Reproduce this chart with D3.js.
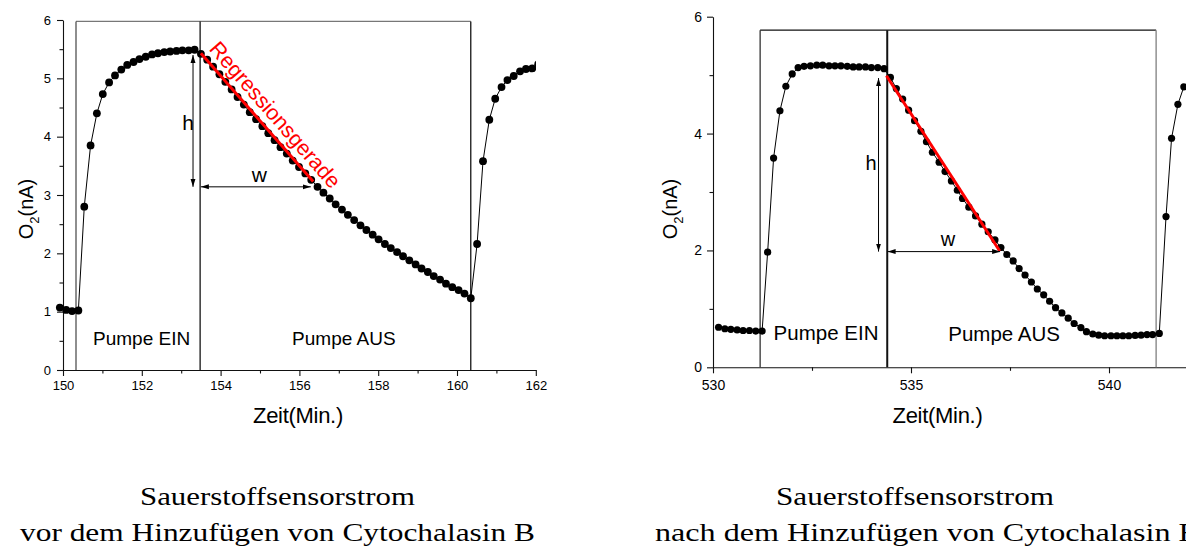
<!DOCTYPE html>
<html>
<head>
<meta charset="utf-8">
<script src="https://cdn.jsdelivr.net/npm/d3@7"></script>
<style>
    body { margin: 0; background: #fff; }
    svg { display: block; }
    text { font-family: "Liberation Sans", Arial, sans-serif; fill: #000; }
</style>
</head>
<body>
<div class="sensor_chart"></div>
<script>
// ---- data ----

// vor dem Hinzufügen von Cytochalasin B
var timeVor = [149.92, 150.08, 150.23, 150.39, 150.54, 150.70, 150.86, 151.01, 151.17, 151.32,
    151.48, 151.63, 151.79, 151.94, 152.10, 152.26, 152.41, 152.57, 152.72, 152.88,
    153.03, 153.19, 153.34,
    153.50, 153.66, 153.81, 153.97, 154.12, 154.28, 154.43, 154.59, 154.74, 154.90,
    155.06, 155.21, 155.37, 155.52, 155.68, 155.83, 155.99, 156.15, 156.30, 156.46,
    156.61, 156.77, 156.92, 157.08, 157.23, 157.39, 157.55, 157.70, 157.86, 158.01,
    158.17, 158.32, 158.48, 158.63, 158.79, 158.95, 159.10, 159.26, 159.41, 159.57,
    159.72, 159.88, 160.04, 160.19, 160.35,
    160.51, 160.66, 160.82, 160.97, 161.13, 161.28, 161.44, 161.60, 161.75, 161.91, 162.06];
var o2Vor = [1.07, 1.03, 1.01, 1.02, 2.80, 3.85, 4.40, 4.73, 4.93, 5.05,
    5.15, 5.23, 5.28, 5.33, 5.37, 5.41, 5.43, 5.45, 5.46, 5.47,
    5.48, 5.48, 5.49,
    5.42, 5.32, 5.20, 5.07, 4.94, 4.81, 4.68, 4.55, 4.42, 4.30,
    4.18, 4.06, 3.94, 3.82, 3.71, 3.59, 3.48, 3.37, 3.26, 3.14,
    3.04, 2.94, 2.84, 2.75, 2.66, 2.57, 2.48, 2.40, 2.32, 2.24,
    2.16, 2.09, 2.02, 1.95, 1.88, 1.81, 1.74, 1.68, 1.61, 1.55,
    1.48, 1.42, 1.37, 1.31, 1.23,
    2.16, 3.58, 4.29, 4.65, 4.85, 4.97, 5.04, 5.12, 5.16, 5.17, 5.24];

// nach dem Hinzufügen von Cytochalasin B
var timeNach = [530.14, 530.30, 530.45, 530.61, 530.76, 530.92, 531.08, 531.24,
    531.38, 531.53, 531.69, 531.84, 532.00,
    532.15, 532.30, 532.46, 532.62, 532.77, 532.93, 533.08, 533.23, 533.39, 533.54,
    533.69, 533.85, 534.00, 534.16, 534.32,
    534.48, 534.63, 534.79, 534.94, 535.09, 535.25, 535.39, 535.54, 535.71, 535.86,
    536.02, 536.17, 536.30, 536.46, 536.63, 536.79, 536.95, 537.12, 537.27, 537.42,
    537.58, 537.73, 537.88, 538.04, 538.19, 538.35, 538.50, 538.65, 538.81, 538.97,
    539.12, 539.29, 539.43, 539.59, 539.74, 539.89, 540.05, 540.20, 540.35, 540.50,
    540.66, 540.81, 540.96, 541.10, 541.27,
    541.44, 541.58, 541.74, 541.89];
var o2Nach = [0.685, 0.66, 0.65, 0.64, 0.63, 0.63, 0.62, 0.62,
    1.97, 3.58, 4.39, 4.81, 5.02,
    5.13, 5.15, 5.16, 5.17, 5.17, 5.16, 5.16, 5.16, 5.15, 5.14,
    5.14, 5.14, 5.13, 5.13, 5.11,
    4.96, 4.77, 4.59, 4.40, 4.22, 4.04, 3.86, 3.68, 3.51, 3.35,
    3.19, 3.03, 2.89, 2.74, 2.59, 2.45, 2.32, 2.18, 2.05, 1.93,
    1.82, 1.69, 1.58, 1.46, 1.34, 1.24, 1.13, 1.02, 0.93, 0.84,
    0.75, 0.68, 0.61, 0.57, 0.55, 0.54, 0.54, 0.54, 0.54, 0.54,
    0.545, 0.55, 0.56, 0.56, 0.58,
    2.58, 3.92, 4.50, 4.80];

// ticks
var xTicksVor = [150, 152, 154, 156, 158, 160, 162];
var xMinorVor = [151, 153, 155, 157, 159, 161];
var yTicksVor = [0, 1, 2, 3, 4, 5, 6];
var yMinorVor = [0.5, 1.5, 2.5, 3.5, 4.5, 5.5];
var xTicksNach = [530, 535, 540];
var xMinorNach = [532.5, 537.5];
var yTicksNach = [0, 2, 4, 6];
var yMinorNach = [1, 3, 5];

// pump phases: [Pumpe EIN, Pumpe AUS, Ende], top of the box
var pumpVor = [150.33, 153.48, 160.35];
var pumpNach = [531.19, 534.40, 541.19];
var boxTopVor = 5.975;
var boxTopNach = 5.77;

// Regressionsgerade [t, O2]
var regVor = [[153.50, 5.43], [156.35, 3.23]];
var regNach = [[534.38, 4.99], [537.24, 1.99]];

// h and w arrows
var hVor = [153.30, 5.40, 3.14];   // t, von, bis
var wVor = [153.50, 156.29, 3.14]; // von, bis, O2
var hNach = [534.18, 4.95, 1.98];
var wNach = [534.41, 537.25, 1.98];

var captionsVor = ["Sauerstoffsensorstrom", "vor dem Hinzufügen von Cytochalasin B"];
var captionsNach = ["Sauerstoffsensorstrom", "nach dem Hinzufügen von Cytochalasin B"];


var width = 1186, height = 551;

var svg = d3.select(".sensor_chart")
    .append("svg")
    .attr("width", width)
    .attr("height", height);

var defs = svg.append("defs");

defs.append("marker")
    .attr("id", "arrow")
    .attr("viewBox", "0 0 8 6")
    .attr("refX", 8)
    .attr("refY", 3)
    .attr("markerWidth", 8)
    .attr("markerHeight", 6)
    .attr("markerUnits", "userSpaceOnUse")
    .attr("orient", "auto-start-reverse")
    .append("path")
    .attr("d", "M0,0.5 L8,3 L0,5.5 z")
    .attr("fill", "#000");

defs.append("clipPath")
    .attr("id", "clipVor")
    .append("rect")
    .attr("x", 40).attr("y", 0)
    .attr("width", 496).attr("height", 400);


function drawPanel(p) {

    var x = d3.scaleLinear().domain(p.xDomain).range(p.xRange);
    var y = d3.scaleLinear().domain([0, 6]).range(p.yRange);

    var g = svg.append("g").attr("class", p.name);

    // axes
    var xAxis = d3.axisBottom(x).tickValues(p.xTicks).tickSize(6).tickSizeOuter(0)
        .tickPadding(p.xPad).tickFormat(d3.format("d"));
    var yAxis = d3.axisLeft(y).tickValues(p.yTicks).tickSize(6).tickSizeOuter(0)
        .tickPadding(p.yPad).tickFormat(d3.format("d"));

    g.append("g")
        .attr("transform", "translate(0," + p.yRange[0] + ")")
        .call(xAxis);
    g.append("g")
        .attr("transform", "translate(" + p.xRange[0] + ",0)")
        .call(yAxis);

    g.append("g")
        .attr("transform", "translate(0," + p.yRange[0] + ")")
        .call(d3.axisBottom(x).tickValues(p.xMinor).tickSize(3.5).tickFormat(""))
        .select(".domain").remove();
    g.append("g")
        .attr("transform", "translate(" + p.xRange[0] + ",0)")
        .call(d3.axisLeft(y).tickValues(p.yMinor).tickSize(3.5).tickFormat(""))
        .select(".domain").remove();

    g.selectAll(".tick text")
        .style("font-size", p.tickFont + "px")
        .style("font-family", "'Liberation Sans', Arial, sans-serif");
    g.selectAll(".domain, .tick line")
        .attr("stroke", "#111")
        .attr("stroke-width", 1.1);

    // pump box
    var box = g.append("g").attr("class", "pump_box");
    box.append("line")
        .attr("x1", x(p.pump[0])).attr("x2", x(p.pump[2]))
        .attr("y1", y(p.boxTop)).attr("y2", y(p.boxTop))
        .attr("stroke", p.boxColors[0]).attr("stroke-width", 1.2);
    p.pump.forEach(function(t, i) {
        box.append("line")
            .attr("x1", x(t)).attr("x2", x(t))
            .attr("y1", y(p.boxTop)).attr("y2", y(0))
            .attr("stroke", p.boxColors[i + 1])
            .attr("stroke-width", p.boxWidths[i]);
    });

    box.append("text")
        .attr("x", x(p.pump[0]) + p.einOffset[0])
        .attr("y", y(0) - p.einOffset[1])
        .style("font-size", p.pumpFont + "px")
        .text("Pumpe EIN");
    box.append("text")
        .attr("x", x(p.pump[1]) + p.ausOffset[0])
        .attr("y", y(0) - p.ausOffset[1])
        .style("font-size", p.pumpFont + "px")
        .text("Pumpe AUS");

    // data
    var pts = p.time.map(function(t, i) { return [t, p.o2[i]]; });
    var line = d3.line()
        .x(function(d) { return x(d[0]); })
        .y(function(d) { return y(d[1]); });

    var dataG = g.append("g");
    if (p.clip) dataG.attr("clip-path", "url(#" + p.clip + ")");

    dataG.append("path")
        .datum(pts)
        .attr("d", line)
        .attr("fill", "none")
        .attr("stroke", "#000")
        .attr("stroke-width", 1);

    dataG.selectAll("circle")
        .data(pts)
        .enter().append("circle")
        .attr("cx", function(d) { return x(d[0]); })
        .attr("cy", function(d) { return y(d[1]); })
        .attr("r", p.r)
        .attr("fill", "#000");

    // Regressionsgerade
    g.append("line")
        .attr("x1", x(p.reg[0][0])).attr("y1", y(p.reg[0][1]))
        .attr("x2", x(p.reg[1][0])).attr("y2", y(p.reg[1][1]))
        .attr("stroke", "#ff0000")
        .attr("stroke-width", 3);

    if (p.regLabel) {
        var dx = x(p.reg[1][0]) - x(p.reg[0][0]),
            dy = y(p.reg[1][1]) - y(p.reg[0][1]),
            len = Math.sqrt(dx * dx + dy * dy),
            ux = dx / len, uy = dy / len,
            ang = Math.atan2(dy, dx) * 180 / Math.PI;
        var bx = x(p.reg[0][0]) + 2 * ux + 8 * uy,
            by = y(p.reg[0][1]) + 2 * uy - 8 * ux;
        g.append("text")
            .attr("transform", "translate(" + bx + "," + by + ") rotate(" + ang + ")")
            .style("font-size", "21.5px")
            .style("fill", "#ff0000")
            .text("Regressionsgerade");
    }

    // h and w
    g.append("line")
        .attr("x1", x(p.h[0])).attr("x2", x(p.h[0]))
        .attr("y1", y(p.h[1])).attr("y2", y(p.h[2]))
        .attr("stroke", "#000").attr("stroke-width", 1)
        .attr("marker-start", "url(#arrow)")
        .attr("marker-end", "url(#arrow)");
    g.append("text")
        .attr("x", x(p.h[0]) + p.hOffset[0])
        .attr("y", (y(p.h[1]) + y(p.h[2])) / 2 + p.hOffset[1])
        .attr("text-anchor", "end")
        .style("font-size", p.hwFont + "px")
        .text("h");

    g.append("line")
        .attr("x1", x(p.w[0])).attr("x2", x(p.w[1]))
        .attr("y1", y(p.w[2])).attr("y2", y(p.w[2]))
        .attr("stroke", "#000").attr("stroke-width", 1)
        .attr("marker-start", "url(#arrow)")
        .attr("marker-end", "url(#arrow)");
    g.append("text")
        .attr("x", (x(p.w[0]) + x(p.w[1])) / 2 + p.wOffset[0])
        .attr("y", y(p.w[2]) + p.wOffset[1])
        .attr("text-anchor", "middle")
        .style("font-size", p.hwFont + "px")
        .text("w");

    // axis titles
    var yt = g.append("text")
        .attr("transform", "translate(" + p.yTitle[0] + "," + p.yTitle[1] + ") rotate(-90)")
        .attr("text-anchor", "middle")
        .style("font-size", "20px");
    yt.append("tspan").text("O");
    yt.append("tspan").attr("dy", 6).style("font-size", "13px").text("2");
    yt.append("tspan").attr("dy", -6).text("(nA)");

    g.append("text")
        .attr("x", p.xTitle[0])
        .attr("y", p.xTitle[1])
        .attr("text-anchor", "middle")
        .style("font-size", "22px")
        .style("letter-spacing", "-0.3px")
        .text("Zeit(Min.)");

    // caption
    p.captions.forEach(function(c, i) {
        g.append("text")
            .attr("x", p.capX[i])
            .attr("y", p.capY[i])
            .attr("textLength", p.capLen[i])
            .attr("lengthAdjust", "spacingAndGlyphs")
            .style("font-family", "'Liberation Serif', 'Times New Roman', serif")
            .style("font-size", "25px")
            .text(c);
    });
}


drawPanel({
    name: "vor",
    time: timeVor, o2: o2Vor,
    xDomain: [150, 162], xRange: [63, 535.8], yRange: [370, 20],
    xTicks: xTicksVor, xMinor: xMinorVor, yTicks: yTicksVor, yMinor: yMinorVor,
    xPad: 5, yPad: 6, tickFont: 13,
    pump: pumpVor, boxTop: boxTopVor,
    boxColors: ["#777", "#444", "#000", "#000"], boxWidths: [1.2, 1.2, 1.2],
    pumpFont: 19, einOffset: [17, 25], ausOffset: [92, 25],
    r: 3.9, clip: "clipVor",
    reg: regVor, regLabel: true,
    h: hVor, w: wVor, hwFont: 21, hOffset: [1, 9], wOffset: [3.5, -5],
    yTitle: [33, 209], xTitle: [298, 423],
    captions: captionsVor, capX: [140, 20], capY: [505, 541], capLen: [275, 515]
});

drawPanel({
    name: "nach",
    time: timeNach, o2: o2Nach,
    xDomain: [530, 542], xRange: [713, 1188.2], yRange: [367.3, 16.7],
    xTicks: xTicksNach, xMinor: xMinorNach, yTicks: yTicksNach, yMinor: yMinorNach,
    xPad: 6.5, yPad: 5, tickFont: 14,
    pump: pumpNach, boxTop: boxTopNach,
    boxColors: ["#111", "#222", "#111", "#888"], boxWidths: [1.2, 2, 1.4],
    pumpFont: 20.5, einOffset: [13.5, 27], ausOffset: [61, 26],
    r: 3.6, clip: null,
    reg: regNach, regLabel: false,
    h: hNach, w: wNach, hwFont: 20, hOffset: [-2, 5.5], wOffset: [4, -5.5],
    yTitle: [677, 209], xTitle: [937.5, 423],
    captions: captionsNach, capX: [776, 655], capY: [505, 541], capLen: [278, 545]
});

</script>
</body>
</html>
